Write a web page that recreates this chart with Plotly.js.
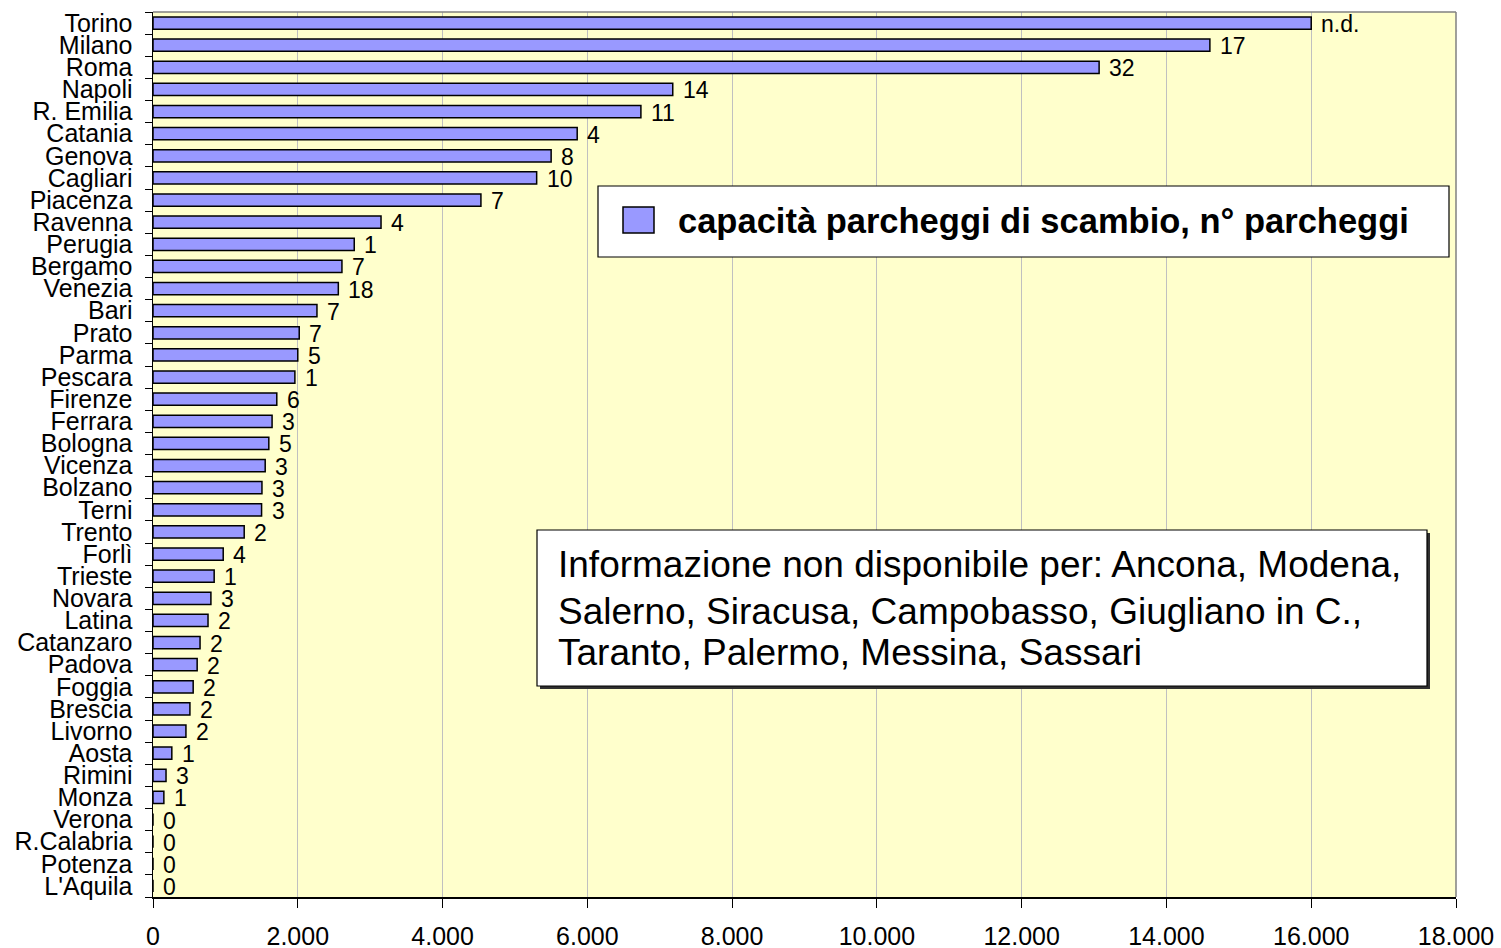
<!DOCTYPE html>
<html>
<head>
<meta charset="utf-8">
<script src="https://cdn.plot.ly/plotly-3.0.1.min.js"></script>
<style>html,body{margin:0;padding:0;background:#fff;}#chart{width:1501px;height:948px;}</style>
</head>
<body>
<div id="chart"></div>
<script>
// ---- data ----
const cities = ["Torino","Milano","Roma","Napoli","R. Emilia","Catania","Genova","Cagliari","Piacenza","Ravenna",
  "Perugia","Bergamo","Venezia","Bari","Prato","Parma","Pescara","Firenze","Ferrara","Bologna",
  "Vicenza","Bolzano","Terni","Trento","Forlì","Trieste","Novara","Latina","Catanzaro","Padova",
  "Foggia","Brescia","Livorno","Aosta","Rimini","Monza","Verona","R.Calabria","Potenza","L'Aquila"];
const capacita = [16000,14600,13070,7180,6740,5860,5500,5300,4530,3150,
  2780,2610,2560,2265,2020,2000,1960,1710,1645,1600,
  1550,1505,1500,1260,970,845,800,760,650,610,
  555,510,455,260,180,150,0,0,0,0];
const nParcheggi = ["n.d.","17","32","14","11","4","8","10","7","4",
  "1","7","18","7","7","5","1","6","3","5",
  "3","3","3","2","4","1","3","2","2","2",
  "2","2","2","1","3","1","0","0","0","0"];
const xTicks = [0,2000,4000,6000,8000,10000,12000,14000,16000,18000];
const seriesName = "capacità parcheggi di scambio, n° parcheggi";
const noteLines = ["Informazione non disponibile per: Ancona, Modena,",
  "Salerno, Siracusa, Campobasso, Giugliano in C.,",
  "Taranto, Palermo, Messina, Sassari"];

// ---- layout helpers (pixel -> paper) ----
const L = 153, R = 1456, T = 12, B = 897;
const fx = p => (p - L) / (R - L);
const fy = p => (B - p) / (B - T);
const FONT = "Liberation Sans, Arial, sans-serif";

const trace = {
  type: "bar", orientation: "h",
  x: capacita, y: cities, name: seriesName,
  marker: {color: "#9999FF", line: {color: "#000000", width: 1.5}},
  width: 0.55, hoverinfo: "x+y", showlegend: false
};

const annotations = cities.map((c, i) => ({
  x: capacita[i], y: c, xref: "x", yref: "y", text: nParcheggi[i],
  showarrow: false, xanchor: "left", yanchor: "middle", xshift: 8, yshift: -1,
  font: {family: FONT, size: 23, color: "#000"}
}));
annotations.push({
  xref: "paper", yref: "paper", x: fx(676), y: fy(221), xanchor: "left", yanchor: "middle",
  text: "<b>" + seriesName + "</b>", showarrow: false,
  font: {family: FONT, size: 34.5, color: "#000"}
});
const noteY = [564, 611, 652];
noteLines.forEach((t, i) => annotations.push({
  xref: "paper", yref: "paper", x: fx(556), y: fy(noteY[i]), xanchor: "left", yanchor: "middle",
  text: t, showarrow: false, font: {family: FONT, size: 37, color: "#000"}
}));

const shapes = [
  // top and right plot border (grey)
  {type: "line", xref: "paper", yref: "paper", x0: 0, x1: 1, y0: 1, y1: 1, line: {color: "#808080", width: 1.5}, layer: "above"},
  {type: "line", xref: "paper", yref: "paper", x0: 1, x1: 1, y0: 0, y1: 1, line: {color: "#808080", width: 1.5}, layer: "above"},
  // legend box
  {type: "rect", xref: "paper", yref: "paper", x0: fx(598), x1: fx(1449), y0: fy(257), y1: fy(186),
   fillcolor: "#FFFFFF", line: {color: "#000", width: 1.2}, layer: "above"},
  {type: "rect", xref: "paper", yref: "paper", x0: fx(623), x1: fx(654), y0: fy(233), y1: fy(207),
   fillcolor: "#9999FF", line: {color: "#000", width: 1.5}, layer: "above"},
  // note box with shadow
  {type: "rect", xref: "paper", yref: "paper", x0: fx(540), x1: fx(1430), y0: fy(689), y1: fy(533),
   fillcolor: "#303030", line: {width: 0}, layer: "above"},
  {type: "rect", xref: "paper", yref: "paper", x0: fx(537), x1: fx(1427), y0: fy(686), y1: fy(530),
   fillcolor: "#FFFFFF", line: {color: "#000", width: 1.2}, layer: "above"}
];

const layout = {
  width: 1501, height: 948, autosize: false,
  margin: {l: L, r: 1501 - R, t: T, b: 948 - B, pad: 0},
  paper_bgcolor: "#FFFFFF", plot_bgcolor: "#FFFFCC",
  separators: ",.",
  font: {family: FONT, color: "#000"},
  bargap: 0.45,
  xaxis: {
    range: [0, 18000], tickvals: xTicks, tickformat: ",.0f",
    showgrid: true, gridcolor: "#C0C0C0", gridwidth: 1, zeroline: false,
    showline: true, linecolor: "#000", linewidth: 1.5,
    ticks: "outside", ticklen: 9, tickcolor: "#000", tickwidth: 1,
    ticklabelstandoff: 7,
    tickfont: {family: FONT, size: 25, color: "#000"}
  },
  yaxis: {
    type: "category", range: [cities.length - 0.5, -0.5], autorange: false,
    tickmode: "array", tickvals: cities, ticktext: cities,
    tickson: "boundaries", ticks: "outside", ticklen: 7, tickcolor: "#000", tickwidth: 1,
    showgrid: false, zeroline: false, showline: true, linecolor: "#000", linewidth: 1.5,
    ticklabelstandoff: 14,
    tickfont: {family: FONT, size: 25, color: "#000"}
  },
  showlegend: false,
  annotations: annotations,
  shapes: shapes
};

Plotly.newPlot("chart", [trace], layout, {displayModeBar: false, staticPlot: true});
</script>
</body>
</html>
